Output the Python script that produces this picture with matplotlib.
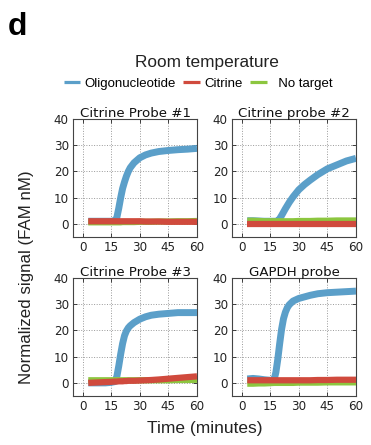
import matplotlib
matplotlib.use("Agg")
import matplotlib.pyplot as plt
from matplotlib.lines import Line2D

time = [3, 6, 9, 12, 15, 17, 18, 19, 20, 21, 22, 23, 24, 25, 27, 30, 33, 36, 40, 45, 50, 55, 60]

titles = ["Citrine Probe #1", "Citrine probe #2", "Citrine Probe #3", "GAPDH probe"]

oligo = [
    [1.0, 1.0, 1.0, 1.0, 1.0, 1.2, 2.5, 6.0, 10.0, 13.5, 16.0, 18.2, 20.0, 21.4, 23.3, 25.2, 26.3, 27.0, 27.6, 28.0, 28.3, 28.5, 28.8],
    [1.2, 1.2, 1.1, 1.0, 1.0, 1.0, 1.0, 1.2, 2.0, 3.2, 4.5, 5.8, 7.0, 8.2, 10.3, 13.0, 15.0, 16.7, 18.8, 21.0, 22.5, 24.0, 25.0],
    [0.0, 0.0, 0.0, 0.0, 0.2, 0.5, 2.5, 6.5, 11.0, 15.0, 18.0, 19.8, 21.0, 21.8, 23.0, 24.3, 25.2, 25.8, 26.2, 26.5, 26.8, 26.8, 26.8],
    [1.5, 1.7, 1.5, 1.2, 1.0, 1.0, 4.0, 9.0, 15.0, 20.5, 24.5, 27.0, 28.7, 29.8, 31.2, 32.2, 32.8, 33.4, 34.0, 34.4, 34.6, 34.8, 35.0],
]

citrine = [
    [1.0, 1.0, 1.0, 1.0, 1.0, 1.0, 1.0, 1.0, 1.0, 1.0, 1.0, 1.0, 1.0, 1.0, 1.0, 1.0, 0.9, 0.9, 0.9, 0.8, 0.8, 0.8, 0.8],
    [0.0, 0.0, 0.0, 0.0, 0.0, 0.0, 0.0, 0.0, 0.0, 0.0, 0.0, 0.0, 0.0, 0.0, 0.0, 0.0, 0.0, 0.0, 0.0, 0.0, 0.0, 0.0, 0.0],
    [0.0, 0.1, 0.2, 0.3, 0.4, 0.5, 0.5, 0.6, 0.6, 0.6, 0.7, 0.7, 0.8, 0.8, 0.8, 0.9, 1.0, 1.1, 1.3, 1.6, 1.9, 2.2, 2.5],
    [1.0, 1.0, 1.0, 1.0, 1.0, 1.0, 1.0, 1.0, 1.0, 1.0, 1.0, 1.0, 1.0, 1.0, 1.0, 1.0, 1.0, 1.0, 1.1, 1.1, 1.2, 1.2, 1.2],
]

notarget = [
    [0.6, 0.6, 0.6, 0.6, 0.6, 0.6, 0.6, 0.6, 0.6, 0.7, 0.7, 0.7, 0.7, 0.7, 0.7, 0.8, 0.8, 0.8, 0.9, 0.9, 1.0, 1.0, 1.1],
    [1.2, 1.2, 1.1, 1.0, 1.0, 1.0, 1.0, 1.0, 1.0, 1.0, 1.0, 1.0, 1.0, 1.0, 1.0, 1.1, 1.1, 1.1, 1.2, 1.2, 1.3, 1.3, 1.3],
    [1.0, 1.0, 1.0, 1.0, 1.0, 1.0, 1.0, 1.0, 1.0, 1.0, 1.0, 1.0, 1.0, 1.0, 1.0, 1.0, 1.0, 1.0, 1.0, 1.0, 1.1, 1.1, 1.2],
    [-0.3, -0.3, -0.2, -0.2, -0.1, 0.0, 0.0, 0.0, 0.0, 0.0, 0.0, 0.0, 0.0, 0.0, 0.0, 0.1, 0.1, 0.1, 0.1, 0.2, 0.2, 0.2, 0.2],
]

series_labels = ["Oligonucleotide", "Citrine", "  No target"]
colors = ["#5b9fc9", "#d04a3d", "#8cc63f"]

xticks = [0, 15, 30, 45, 60]
yticks = [0, 10, 20, 30, 40]

W, H = 371, 445
fig = plt.figure(figsize=(W / 100, H / 100), dpi=100)

lefts = [73, 232]
tops = [119, 278]
aw, ah = 124, 118

tickfont = "DejaVu Sans"
outerfont = "Liberation Sans"

for i in range(4):
    r, c = divmod(i, 2)
    x0 = lefts[c] / W
    y0 = 1 - (tops[r] + ah) / H
    ax = fig.add_axes([x0, y0, aw / W, ah / H])
    ax.plot(time, oligo[i], color=colors[0], lw=5, solid_capstyle="butt", zorder=3)
    ax.plot(time, notarget[i], color=colors[2], lw=4.5, solid_capstyle="butt", zorder=3)
    ax.plot(time, citrine[i], color=colors[1], lw=4.5, solid_capstyle="butt", zorder=3)
    ax.set_xlim(-5, 60)
    ax.set_ylim(-5, 40)
    ax.set_xticks(xticks)
    ax.set_yticks(yticks)
    ax.tick_params(direction="in", length=3, width=0.6, labelsize=8.6, pad=3,
                   top=True, right=True, colors="#222222")
    for lab in ax.get_xticklabels() + ax.get_yticklabels():
        lab.set_family(tickfont)
    ax.grid(True, linestyle=":", color="#999999", lw=0.7)
    for s in ax.spines.values():
        s.set_linewidth(0.8)
        s.set_color("#444444")
    ax.set_title(titles[i], fontsize=9.6, family=tickfont, pad=1.5, color="#111111")

fig.text(8 / W, 1 - 27 / H, "d", fontsize=23, fontweight="bold", family=outerfont,
         ha="left", va="center")
fig.text(207 / W, 1 - 63 / H, "Room temperature", fontsize=12.4, family=outerfont,
         ha="center", va="center", color="#222222")

handles = [Line2D([], [], color=col, lw=2.3, solid_capstyle="butt") for col in colors]
leg = fig.legend(handles, series_labels, loc="center",
                 bbox_to_anchor=(198 / W, 1 - 84 / H), ncol=3, frameon=False,
                 prop={"family": outerfont, "size": 9.5}, handlelength=1.25,
                 handletextpad=0.3, columnspacing=0.6, borderpad=0, borderaxespad=0)

fig.text(27 / W, 1 - 277 / H, "Normalized signal (FAM nM)", fontsize=12.2, family=outerfont,
         rotation=90, ha="center", va="center", color="#222222")
fig.text(205 / W, 1 - 429 / H, "Time (minutes)", fontsize=12.5, family=outerfont,
         ha="center", va="center", color="#222222")

fig.savefig("out.png", dpi=100)
